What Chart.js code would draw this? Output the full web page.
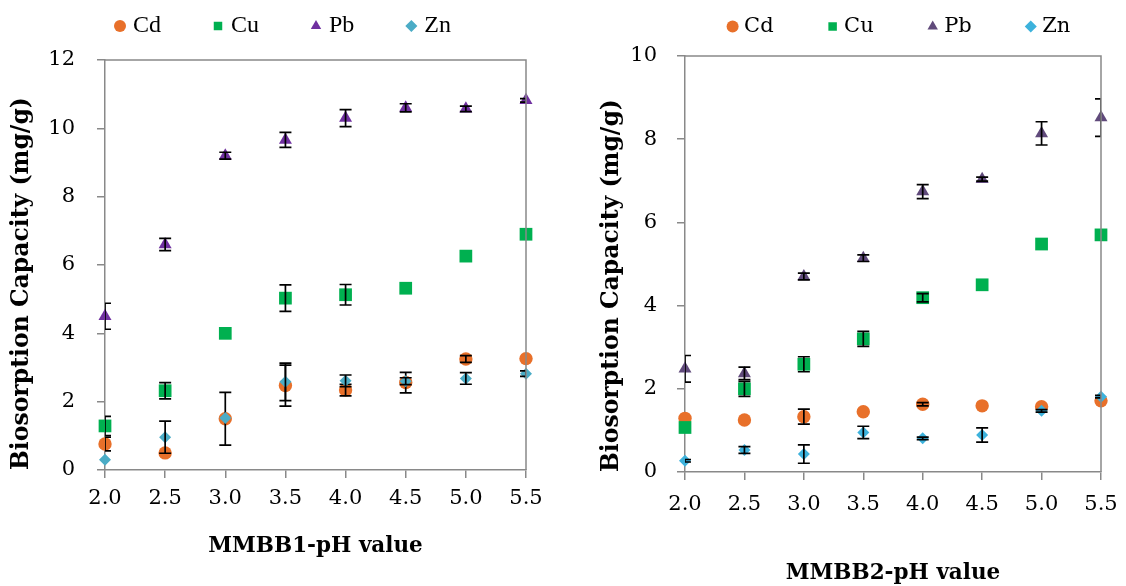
<!DOCTYPE html>
<html>
<head>
<meta charset="utf-8">
<script src="https://cdn.jsdelivr.net/npm/chart.js@4.4.1/dist/chart.umd.min.js"></script>
<style>
  body { margin: 0; background: #fff; overflow: hidden; width: 1126px; height: 586px; position: relative; }
  canvas { position: absolute; top: 0; }
  #chart1 { left: 0; }
  #chart2 { left: 590px; }
</style>
</head>
<body>
<canvas id="chart1" width="570" height="586"></canvas>
<canvas id="chart2" width="622" height="586"></canvas>
<script>
// valores de pH (eixo x)
const phValues = [2.0, 2.5, 3.0, 3.5, 4.0, 4.5, 5.0, 5.5];
const metals = ['Cd', 'Cu', 'Pb', 'Zn'];

// MMBB1
const cd1 = [0.76, 0.5, 1.5, 2.47, 2.34, 2.56, 3.25, 3.26];
const cd1Err = [0.2, 0, 0.77, 0.6, 0.17, 0.3, 0.1, 0];
const cu1 = [1.29, 2.32, 4.0, 5.03, 5.13, 5.32, 6.26, 6.9];
const cu1Err = [0.28, 0.24, 0, 0.39, 0.3, 0, 0, 0];
const pb1 = [4.5, 6.6, 9.2, 9.66, 10.3, 10.6, 10.57, 10.82];
const pb1Err = [0.38, 0.18, 0.1, 0.22, 0.25, 0.12, 0.08, 0.05];
const zn1 = [0.3, 0.96, 1.52, 2.58, 2.61, 2.6, 2.68, 2.82];
const zn1Err = [0, 0.47, 0, 0.55, 0.17, 0.1, 0.17, 0.08];

// MMBB2
const cd2 = [1.29, 1.25, 1.33, 1.45, 1.63, 1.59, 1.57, 1.71];
const cd2Err = [0, 0, 0.18, 0, 0.04, 0, 0, 0];
const cu2 = [1.07, 2.0, 2.59, 3.2, 4.19, 4.5, 5.48, 5.7];
const cu2Err = [0, 0.18, 0.18, 0.18, 0.1, 0, 0, 0];
const pb2 = [2.48, 2.37, 4.7, 5.14, 6.74, 7.04, 8.14, 8.52];
const pb2Err = [0.32, 0.15, 0.08, 0.08, 0.17, 0.05, 0.28, 0.45];
const zn2 = [0.27, 0.53, 0.43, 0.95, 0.81, 0.89, 1.47, 1.81];
const zn2Err = [0.03, 0.08, 0.22, 0.15, 0.03, 0.17, 0.03, 0.03];

const styles = ['circle', 'rect', 'triangle', 'rectRot'];
const radii = [6.7, 9, 7.5, 6];
const colors1 = ['#E8702A', '#00B050', '#7030A0', '#4BACC6'];
const colors2 = ['#E8702A', '#00B050', '#604A7B', '#3DB2DC'];

const times = '"Liberation Serif", serif';
const slab = '"DejaVu Serif", serif';

// barras de erro + moldura de cima e da direita
const errorBars = {
  id: 'errorBars',
  afterDatasetDraw(chart, args) {
    const ds = chart.data.datasets[args.index];
    if (!ds.errors) return;
    const xs = chart.scales.x, ys = chart.scales.y, area = chart.chartArea;
    const ctx = chart.ctx;
    ctx.save();
    ctx.beginPath();
    ctx.rect(area.left, area.top - 30, area.right - area.left, area.bottom - area.top + 60);
    ctx.clip();
    ctx.strokeStyle = '#000';
    ctx.lineWidth = 1.7;
    ds.data.forEach((p, i) => {
      const e = ds.errors[i];
      if (!e) return;
      const px = xs.getPixelForValue(p.x);
      const top = ys.getPixelForValue(p.y + e);
      const bot = ys.getPixelForValue(p.y - e);
      ctx.beginPath();
      ctx.moveTo(px, top); ctx.lineTo(px, bot);
      ctx.moveTo(px - 6, top); ctx.lineTo(px + 6, top);
      ctx.moveTo(px - 6, bot); ctx.lineTo(px + 6, bot);
      ctx.stroke();
    });
    ctx.restore();
  },
  afterDraw(chart) {
    const a = chart.chartArea, ctx = chart.ctx;
    ctx.save();
    ctx.strokeStyle = '#898989';
    ctx.lineWidth = 1.5;
    ctx.beginPath();
    ctx.moveTo(a.left, a.top);
    ctx.lineTo(a.right, a.top);
    ctx.lineTo(a.right, a.bottom);
    ctx.stroke();
    ctx.restore();
  }
};

// altura fixa da legenda
const legendHeight = {
  id: 'legendHeight',
  beforeInit(chart) {
    if (!chart.legend) return;
    const fit = chart.legend.fit;
    chart.legend.fit = function () {
      fit.call(this);
      this.height = chart.options.plugins.legend.fixedHeight;
    };
  }
};

function makeChart(id, series, errors, colors, cfg) {
  const datasets = series.map((vals, k) => ({
    label: metals[k],
    data: phValues.map((x, i) => ({ x: x, y: vals[i] })),
    errors: errors[k],
    pointStyle: styles[k],
    pointRadius: radii[k],
    pointHoverRadius: radii[k],
    backgroundColor: colors[k],
    borderColor: colors[k],
    borderWidth: 0,
    pointBorderWidth: 0,
    showLine: false,
    clip: false,
    order: 4 - k
  }));

  return new Chart(document.getElementById(id), {
    type: 'scatter',
    data: { datasets: datasets },
    options: {
      responsive: false,
      animation: false,
      events: [],
      layout: { padding: { top: cfg.padTop, bottom: cfg.padBottom, left: 0, right: 0 } },
      plugins: {
        tooltip: { enabled: false },
        legend: {
          position: 'top',
          fixedHeight: cfg.legendH,
          labels: {
            usePointStyle: true,
            boxWidth: 2,
            boxHeight: 8.5,
            padding: cfg.legendPad,
            color: '#000',
            font: { family: cfg.legendFont, size: cfg.legendSize },
            sort: (a, b) => a.datasetIndex - b.datasetIndex
          }
        }
      },
      scales: {
        x: {
          type: 'linear',
          min: 2,
          max: 5.5,
          afterFit: s => { s.height = cfg.xH; },
          border: { color: '#898989', width: 1.5 },
          grid: { drawOnChartArea: false, color: '#898989', lineWidth: 1.5, tickLength: 8 },
          ticks: {
            stepSize: 0.5,
            padding: cfg.xTickPad,
            color: '#000',
            font: { family: slab, size: 21 },
            callback: v => v.toFixed(1)
          },
          title: {
            display: true,
            text: cfg.xTitle,
            color: '#000',
            padding: { top: 0, bottom: cfg.xTitlePad },
            font: { family: slab, size: 21.5, weight: 'bold' }
          }
        },
        y: {
          min: 0,
          max: cfg.yMax,
          afterFit: s => { s.width = cfg.yW; },
          border: { color: '#898989', width: 1.5 },
          grid: { drawOnChartArea: false, color: '#898989', lineWidth: 1.5, tickLength: 8 },
          ticks: {
            stepSize: 2,
            padding: cfg.yTickPad,
            color: '#000',
            font: { family: slab, size: 21 }
          },
          title: {
            display: true,
            align: 'start',
            text: 'Biosorption Capacity (mg/g)',
            color: '#000',
            padding: { top: 8, bottom: 0 },
            font: { family: slab, size: 23.5, weight: 'bold' }
          }
        },
        // eixo vazio so para reservar espaco a direita
        side: {
          position: 'right',
          afterFit: s => { s.width = cfg.sideW; },
          border: { display: false },
          grid: { display: false },
          ticks: { display: false }
        }
      }
    },
    plugins: [errorBars, legendHeight]
  });
}

makeChart('chart1', [cd1, cu1, pb1, zn1], [cd1Err, cu1Err, pb1Err, zn1Err], colors1, {
  padTop: -42, legendH: 102, padBottom: 20, sideW: 44, xH: 96, xTickPad: 8, xTitlePad: 7,
  yW: 105, yTickPad: 22, yMax: 12, xTitle: 'MMBB1-pH value',
  legendFont: times, legendSize: 24, legendPad: 56
});

makeChart('chart2', [cd2, cu2, pb2, zn2], [cd2Err, cu2Err, pb2Err, zn2Err], colors2, {
  padTop: -42, legendH: 98, padBottom: 0, sideW: 111, xH: 114, xTickPad: 12, xTitlePad: 0,
  yW: 95, yTickPad: 20, yMax: 10, xTitle: 'MMBB2-pH value',
  legendFont: slab, legendSize: 21, legendPad: 58
});
</script>
</body>
</html>
